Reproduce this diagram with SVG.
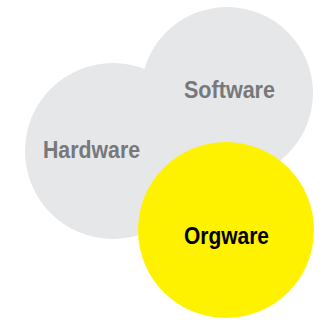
<svg xmlns="http://www.w3.org/2000/svg" width="329" height="320" viewBox="0 0 329 320">
<style>
.c{fill:#e6e7e8}
.t{font-family:"Liberation Sans",Arial,sans-serif;font-weight:bold;font-size:23px}
.g{fill:#77787b}
</style>
<rect width="329" height="320" fill="#fff"/>
<g id="software"><circle class="c" cx="227" cy="93" r="86"/></g>
<g id="hardware"><circle class="c" cx="113" cy="151" r="88"/></g>
<g id="orgware"><circle cx="226" cy="230" r="88" fill="#fff200"/></g>
<g id="connectors"></g>
<g id="labels">
<text class="t g" x="184" y="98" textLength="91" lengthAdjust="spacingAndGlyphs">Software</text>
<text class="t g" x="43" y="158" textLength="97" lengthAdjust="spacingAndGlyphs">Hardware</text>
<text class="t" x="184" y="244" textLength="85" lengthAdjust="spacingAndGlyphs" fill="#000">Orgware</text>
</g>
</svg>
